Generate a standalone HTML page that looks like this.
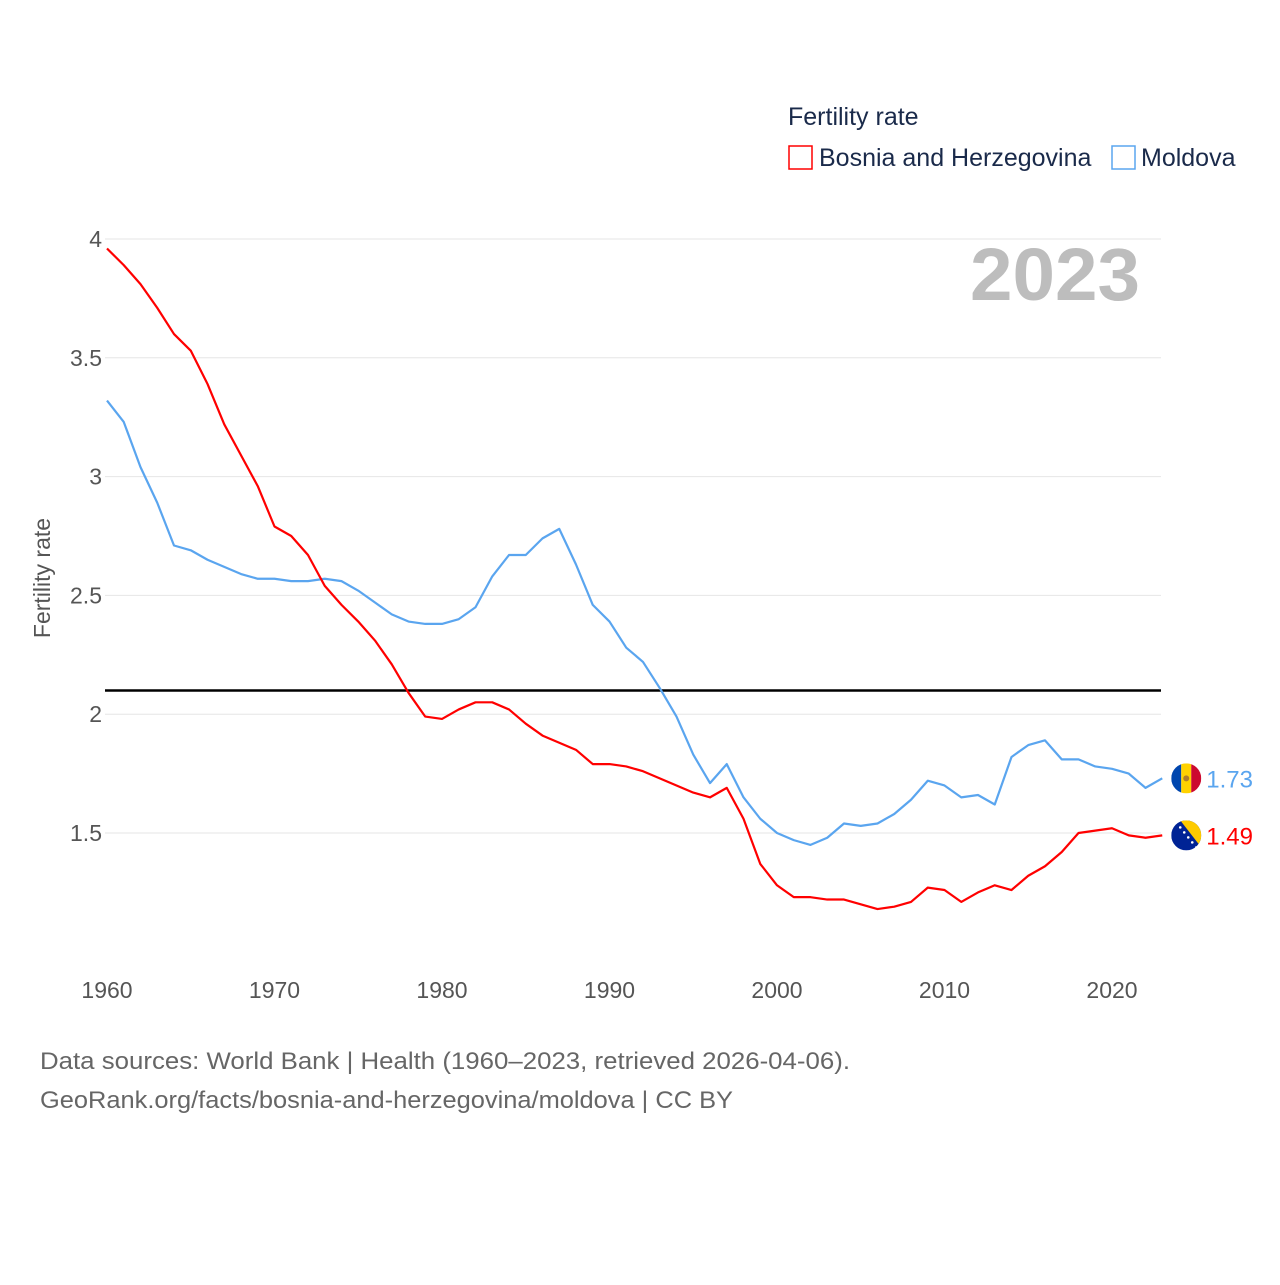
<!DOCTYPE html>
<html><head><meta charset="utf-8">
<style>
html,body{margin:0;padding:0;background:#fff;}
body{width:1280px;height:1280px;overflow:hidden;font-family:"Liberation Sans",sans-serif;}
</style></head>
<body>
<svg id="chart" width="1280" height="1280" xmlns="http://www.w3.org/2000/svg" font-family="Liberation Sans, sans-serif">
  <text x="788" y="125" font-size="25" fill="#1a2a4a">Fertility rate</text>
  <g>
    <rect x="789" y="146" width="23" height="23" fill="none" stroke="#ff0000" stroke-width="1.5"/>
    <text x="819" y="166" font-size="25" fill="#1a2a4a">Bosnia and Herzegovina</text>
  </g>
  <g>
    <rect x="1112" y="146" width="23" height="23" fill="none" stroke="#5aa5ef" stroke-width="1.5"/>
    <text x="1141" y="166" font-size="25" fill="#1a2a4a">Moldova</text>
  </g>
  <g id="grid"></g>
  <g id="yticks"></g>
  <g id="xticks"></g>
  <text x="1140" y="300" font-size="74" font-weight="bold" fill="#bdbdbd" text-anchor="end" textLength="170" lengthAdjust="spacingAndGlyphs">2023</text>
  <text transform="translate(50,578) rotate(-90)" font-size="23" fill="#555" text-anchor="middle">Fertility rate</text>
  <g id="series"></g>
  <text x="40" y="1069" font-size="24" fill="#666" textLength="810" lengthAdjust="spacingAndGlyphs">Data sources: World Bank | Health (1960–2023, retrieved 2026-04-06).</text>
  <text x="40" y="1108" font-size="24" fill="#666" textLength="693" lengthAdjust="spacingAndGlyphs">GeoRank.org/facts/bosnia-and-herzegovina/moldova | CC BY</text>
</svg>
<script>
const years = [];
for (let y = 1960; y <= 2023; y++) years.push(y);
const bosnia = [3.96,3.89,3.81,3.71,3.60,3.53,3.39,3.22,3.09,2.96,2.79,2.75,2.67,2.54,2.46,2.39,2.31,2.21,2.09,1.99,1.98,2.02,2.05,2.05,2.02,1.96,1.91,1.88,1.85,1.79,1.79,1.78,1.76,1.73,1.70,1.67,1.65,1.69,1.56,1.37,1.28,1.23,1.23,1.22,1.22,1.20,1.18,1.19,1.21,1.27,1.26,1.21,1.25,1.28,1.26,1.32,1.36,1.42,1.50,1.51,1.52,1.49,1.48,1.49];
const moldova = [3.32,3.23,3.04,2.89,2.71,2.69,2.65,2.62,2.59,2.57,2.57,2.56,2.56,2.57,2.56,2.52,2.47,2.42,2.39,2.38,2.38,2.40,2.45,2.58,2.67,2.67,2.74,2.78,2.63,2.46,2.39,2.28,2.22,2.11,1.99,1.83,1.71,1.79,1.65,1.56,1.50,1.47,1.45,1.48,1.54,1.53,1.54,1.58,1.64,1.72,1.70,1.65,1.66,1.62,1.82,1.87,1.89,1.81,1.81,1.78,1.77,1.75,1.69,1.73];
const yTicks = [4,3.5,3,2.5,2,1.5];
const yTickLabels = ["4","3.5","3","2.5","2","1.5"];
const xTicks = [1960,1970,1980,1990,2000,2010,2020];
const replacement = 2.1;

const NS = "http://www.w3.org/2000/svg";
const xs = v => 107 + (v - 1960) * 16.75;
const ys = v => 239 + (4 - v) * 237.6;
function mk(tag, attrs, parent){const e=document.createElementNS(NS,tag);for(const k in attrs)e.setAttribute(k,attrs[k]);parent.appendChild(e);return e;}
const grid=document.getElementById('grid'), yt=document.getElementById('yticks'), xt=document.getElementById('xticks'), ser=document.getElementById('series');
yTicks.forEach((t,i)=>{
  const l=mk('line',{x1:105,x2:1161,y1:ys(t),y2:ys(t),stroke:'#e6e6e6','stroke-width':1},grid);
  
  
  const tx=mk('text',{x:102,y:ys(t)+8,'font-size':23,fill:'#555','text-anchor':'end'},yt);
  tx.textContent=yTickLabels[i];
  
  
});
xTicks.forEach(t=>{
  const tx=mk('text',{x:xs(t),y:998,'font-size':23,fill:'#555','text-anchor':'middle'},xt);
  tx.textContent=String(t);
  
  
});
const ref=mk('line',{x1:105,x2:1161,y1:ys(replacement),y2:ys(replacement),stroke:'#000','stroke-width':2.5},ser);


function line(data,color,name){
  const p=mk('polyline',{points:data.map((v,i)=>xs(years[i])+','+ys(v)).join(' '),fill:'none',stroke:color,'stroke-width':2.2,'stroke-linejoin':'round'},ser);
  
  
}
line(moldova,'#5aa5ef','moldova-line');
line(bosnia,'#ff0000','bosnia-line');
function endLabel(data,color,name,flag){
  const v=data[data.length-1], cx=xs(years[years.length-1])+24, cy=ys(v);
  const g=mk('g',{},ser);
  
  
  const cp='clip-'+name;
  const d=mk('clipPath',{id:cp},g); mk('circle',{cx:cx,cy:cy,r:15},d);
  const f=mk('g',{'clip-path':'url(#'+cp+')'},g);
  if(flag==='md'){
    mk('rect',{x:cx-15,y:cy-15,width:10,height:30,fill:'#0046ae'},f);
    mk('rect',{x:cx-5,y:cy-15,width:10,height:30,fill:'#ffd200'},f);
    mk('rect',{x:cx+5,y:cy-15,width:10,height:30,fill:'#cc092f'},f);
    mk('circle',{cx:cx,cy:cy,r:3,fill:'#b07e2a'},f);
  } else {
    mk('rect',{x:cx-15,y:cy-15,width:30,height:30,fill:'#002395'},f);
    mk('polygon',{points:(cx-6)+','+(cy-15)+' '+(cx+15)+','+(cy-15)+' '+(cx+15)+','+(cy+12),fill:'#fecb00'},f);
    for(let k=0;k<6;k++) mk('circle',{cx:cx-10+k*4,cy:cy-13+k*5,r:1.3,fill:'#fff'},f);
  }
  const t=mk('text',{x:cx+20,y:cy+9,'font-size':24,fill:color},g);
  t.textContent=v.toFixed(2);
}
endLabel(moldova,'#5aa5ef','moldova-end-label','md');
endLabel(bosnia,'#ff0000','bosnia-end-label','ba');
</script>
</body></html>
